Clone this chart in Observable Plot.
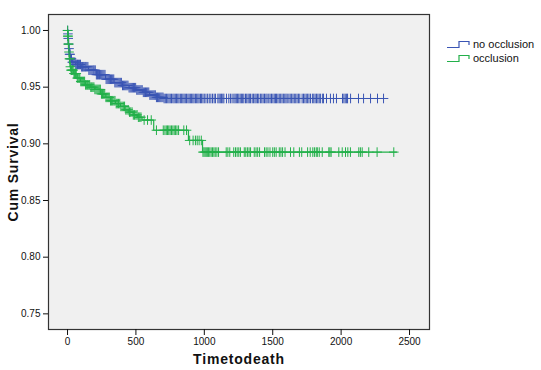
<!DOCTYPE html>
<html>
<head>
<meta charset="utf-8">
<script src="https://cdn.jsdelivr.net/npm/d3@7"></script>
<script src="https://cdn.jsdelivr.net/npm/@observablehq/plot@0.6"></script>
<style>
  html, body { margin: 0; padding: 0; background: #fff; }
  #wrap { position: relative; width: 541px; height: 370px; font-family: "Liberation Sans", Arial, sans-serif; }
  #wrap svg [aria-label="x-axis label"] text, #wrap svg [aria-label="y-axis label"] text,
  #wrap svg [aria-label="x-axis label"], #wrap svg [aria-label="y-axis label"] {
    font-size: 14px; font-weight: bold; letter-spacing: 0.8px; fill: #111;
  }
  #legend { position: absolute; left: 446px; top: 37px; font-size: 11px; color: #111; line-height: 14px; }
  #legend div { display: flex; align-items: center; height: 14px; }
  #legend svg { margin-right: 3px; }
</style>
</head>
<body>
<div id="wrap"></div>
<script>
// Series names
const groups = ["no occlusion", "occlusion"];
const colors = ["#3a55b4", "#23b04a"];

// Step curve: no occlusion
const blueT = [0, 2, 4, 7, 10, 15, 22, 34, 60, 100, 153, 210, 278, 340, 400, 450, 500, 550, 600, 650, 700];
const blueS = [1.0, 0.997, 0.993, 0.988, 0.984, 0.979, 0.975, 0.972, 0.970, 0.968, 0.965, 0.961, 0.957, 0.954, 0.9515, 0.9495, 0.9475, 0.9455, 0.943, 0.941, 0.940];
const blueEnd = 2310;
const blueCens = [1,3,5,8,11,15,19,24,29,35,41,47,54,60,67,73,80,88,95,103,110,118,126,133,141,149,156,164,172,180,188,195,203,211,219,227,234,242,250,258,266,274,282,290,298,306,314,322,330,338,346,354,362,370,378,386,394,402,410,418,426,434,442,450,458,466,474,482,490,498,506,514,522,530,538,546,554,562,570,578,586,594,602,610,618,626,634,642,650,658,666,674,682,690,698,
706,715,724,733,742,751,760,770,779,788,797,806,815,825,834,843,852,861,870,880,889,898,907,916,925,935,944,953,962,972,980,990,1000,1012,1024,1036,1048,1060,1072,1082,1099,1108,1117,1126,1135,1143,1162,1179,1191,1203,1216,1225,1234,1243,1252,1262,1271,1280,1289,1301,1310,1320,1329,1338,1350,1360,1370,1379,1389,1398,1410,1420,1430,1440,1450,1459,1471,1481,1491,1501,1511,1520,1528,1538,1548,1558,1568,1578,1588,1597,1606,1618,1628,1638,1648,1658,1668,1678,1688,1698,1715,1725,1735,1745,1755,1765,1776,1790,1800,1810,1820,1830,1840,1850,1865,1871,1893,1922,1944,1966,2010,2020,2030,2040,2047,2069,2127,2164,2215,2266,2310];

// Step curve: occlusion
const greenT = [0, 2, 5, 9, 13, 18, 25, 45, 70, 95, 130, 168, 200, 241, 280, 314, 350, 387, 420, 450, 480, 510, 545, 630, 884, 987];
const greenS = [1.0, 0.995, 0.988, 0.981, 0.975, 0.968, 0.965, 0.962, 0.958, 0.955, 0.952, 0.950, 0.948, 0.944, 0.941, 0.938, 0.9355, 0.933, 0.930, 0.928, 0.9255, 0.9235, 0.921, 0.912, 0.903, 0.8927];
const greenEnd = 2405;
const greenCens = [1,2,4,6,8,11,14,17,21,26,30,35,41,47,52,58,64,71,77,84,90,97,104,111,118,125,132,140,147,155,162,170,177,185,193,200,208,216,224,232,240,248,256,264,272,281,289,297,305,314,322,330,339,347,356,364,373,382,390,399,408,417,426,435,444,453,462,472,481,490,500,509,518,528,537,560,585,612,
650,700,712,722,731,740,750,760,770,780,790,800,812,850,870,
893,918,935,948,962,978,
990,998,1006,1014,1022,1030,1040,1050,1060,1070,1080,1092,1104,1160,1172,1186,1215,1228,1240,1252,1264,1292,1303,1315,1327,1338,1365,1378,1390,1404,1440,1452,1465,1480,1500,1512,1525,1548,1560,1572,1590,1630,1654,1695,1712,1755,1774,1793,1805,1818,1826,1840,1862,1910,1918,1927,1983,2008,2032,2049,2068,2129,2141,2154,2202,2263,2385];

// Axis ticks
const xTicks = [0, 500, 1000, 1500, 2000, 2500];
const yTicks = [0.75, 0.80, 0.85, 0.90, 0.95, 1.00];

function stepRows(T, S, end, g) {
  const rows = T.map((t, i) => ({t, s: S[i], g}));
  rows.push({t: end, s: S[S.length - 1], g});
  return rows;
}
function censRows(T, S, C, g) {
  return C.map(t => {
    const i = Math.max(0, d3.bisectRight(T, t) - 1);
    return {t, s: S[i], g};
  });
}

const lines = [...stepRows(blueT, blueS, blueEnd, groups[0]), ...stepRows(greenT, greenS, greenEnd, groups[1])];
const cens = [...censRows(blueT, blueS, blueCens, groups[0]), ...censRows(greenT, greenS, greenCens, groups[1])];

const chart = Plot.plot({
  width: 541,
  height: 370,
  marginLeft: 48,
  marginRight: 112,
  marginTop: 14,
  marginBottom: 41,
  style: {fontFamily: "'Liberation Sans', Arial, sans-serif", fontSize: "10px", background: "#fff", color: "#111"},
  x: {domain: [-139, 2646]},
  y: {domain: [0.7362, 1.0141]},
  color: {domain: groups, range: colors},
  marks: [
    Plot.frame({fill: "#f0f0f0", stroke: "none"}),
    Plot.line(lines, {x: "t", y: "s", z: "g", stroke: "g", curve: "step-after", strokeWidth: 1.2}),
    Plot.dot(cens, {x: "t", y: "s", stroke: "g", symbol: "plus", r: 3.2, strokeWidth: 1}),
    Plot.frame({stroke: "#333", strokeWidth: 1.2}),
    Plot.axisX({ticks: xTicks, tickSize: 6, tickPadding: 2, tickFormat: d => String(d), label: "Timetodeath", labelAnchor: "center", labelArrow: "none", labelOffset: 34}),
    Plot.axisY({ticks: yTicks, tickSize: 5, tickPadding: 3, tickFormat: d => d.toFixed(2), label: "Cum Survival", labelAnchor: "center", labelArrow: "none", labelOffset: 40})
  ]
});

const wrap = document.getElementById("wrap");
wrap.appendChild(chart);

const legend = document.createElement("div");
legend.id = "legend";
groups.forEach((g, i) => {
  const row = document.createElement("div");
  row.innerHTML = `<svg width="24" height="10"><path d="M1,8.5H13V2.5H23V6" fill="none" stroke="${colors[i]}" stroke-width="1.2"/></svg><span>${g}</span>`;
  legend.appendChild(row);
});
wrap.appendChild(legend);
</script>
</body>
</html>
